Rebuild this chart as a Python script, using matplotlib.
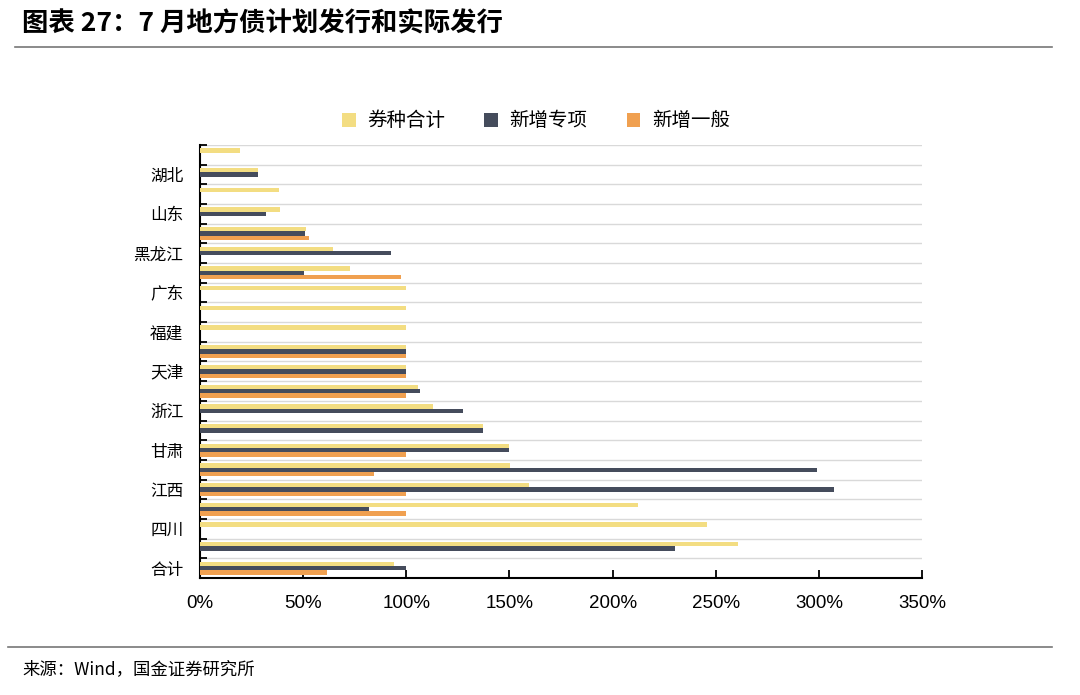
import matplotlib
matplotlib.use('Agg')
import matplotlib.pyplot as plt
import numpy as np
from matplotlib.ticker import FixedLocator, FuncFormatter

plt.rcParams['font.family'] = ['Noto Sans CJK SC', 'DejaVu Sans']

# categories from bottom to top (only every other one is labelled in the source)
categories = ['合计', '内蒙古', '四川', '河南', '江西', '广西', '甘肃', '贵州',
              '浙江', '重庆', '天津', '北京', '福建', '上海', '广东', '湖南',
              '黑龙江', '河北', '山东', '安徽', '湖北', '吉林']
nan = np.nan
total = [94, 261, 246, 212.5, 159.5, 150.5, 150, 137, 113, 105.5, 100,
         100, 100, 100, 100, 72.5, 64.5, 51.5, 39, 38.5, 28, 19.5]
special = [99.7, 230.5, nan, 82, 307.5, 299, 150, 137, 127.5, 106.5, 100,
           100, nan, nan, nan, 50.5, 92.5, 51, 32, nan, 28, nan]
general = [61.5, nan, nan, 100, 100, 84.5, 100, nan, nan, 100, 100,
           100, nan, nan, nan, 97.5, nan, 53, nan, nan, nan, nan]
seriesNames = ['券种合计', '新增专项', '新增一般']
xticks = [0, 50, 100, 150, 200, 250, 300, 350]

colors = ['#F3DD82', '#454C5C', '#F0A050']

fig = plt.figure(figsize=(10.8, 6.95), dpi=100)
ax = fig.add_axes([200/1080, 1-578/695, 722/1080, 433/695])

y = np.arange(len(categories))
h = 0.22
ax.barh(y + h, total, height=h, color=colors[0], label=seriesNames[0], zorder=3)
ax.barh(y, special, height=h, color=colors[1], label=seriesNames[1], zorder=3)
ax.barh(y - h, general, height=h, color=colors[2], label=seriesNames[2], zorder=3)

ax.set_xlim(0, 350)
ax.set_ylim(-0.5, len(categories) - 0.5)

ax.set_xticks(xticks)
ax.xaxis.set_major_formatter(FuncFormatter(lambda v, p: '%d%%' % v))
for lab in ax.get_xticklabels():
    lab.set_fontfamily('Liberation Sans')
ax.tick_params(axis='x', direction='in', length=6, width=1.3, labelsize=13.5, pad=12)

ax.set_yticks(y[::2])
ax.set_yticklabels([categories[i] for i in y[::2]], fontsize=12)
ax.tick_params(axis='y', which='major', length=0, pad=12)
ax.yaxis.set_minor_locator(FixedLocator(np.arange(-0.5, len(categories), 1)))
ax.tick_params(axis='y', which='minor', direction='in', length=5, width=1.3)
ax.grid(True, axis='y', which='minor', color='#D9D9D9', lw=1, zorder=0)

for s in ['top', 'right']:
    ax.spines[s].set_visible(False)
for s in ['left', 'bottom']:
    ax.spines[s].set_linewidth(1.5)
    ax.spines[s].set_color('black')

leg = fig.legend(loc='center', bbox_to_anchor=(536/1080, 1-121/695), ncol=3, frameon=False,
                 fontsize=14, handlelength=0.7, handleheight=0.7, columnspacing=2.0,
                 handletextpad=0.6)

fig.text(22/1080, 1-24/695, '图表 27：7 月地方债计划发行和实际发行', fontsize=19,
         fontweight='bold', va='center', ha='left', style='italic')
fig.add_artist(plt.Line2D([15/1080, 1052/1080], [1-47/695, 1-47/695], color='#777777', lw=1.2))
fig.add_artist(plt.Line2D([8/1080, 1052/1080], [1-647/695, 1-647/695], color='#777777', lw=1.2))
fig.text(22/1080, 1-669/695, '来源：Wind，国金证券研究所', fontsize=12.5, va='center', ha='left')

fig.savefig('out.png', dpi=100)
